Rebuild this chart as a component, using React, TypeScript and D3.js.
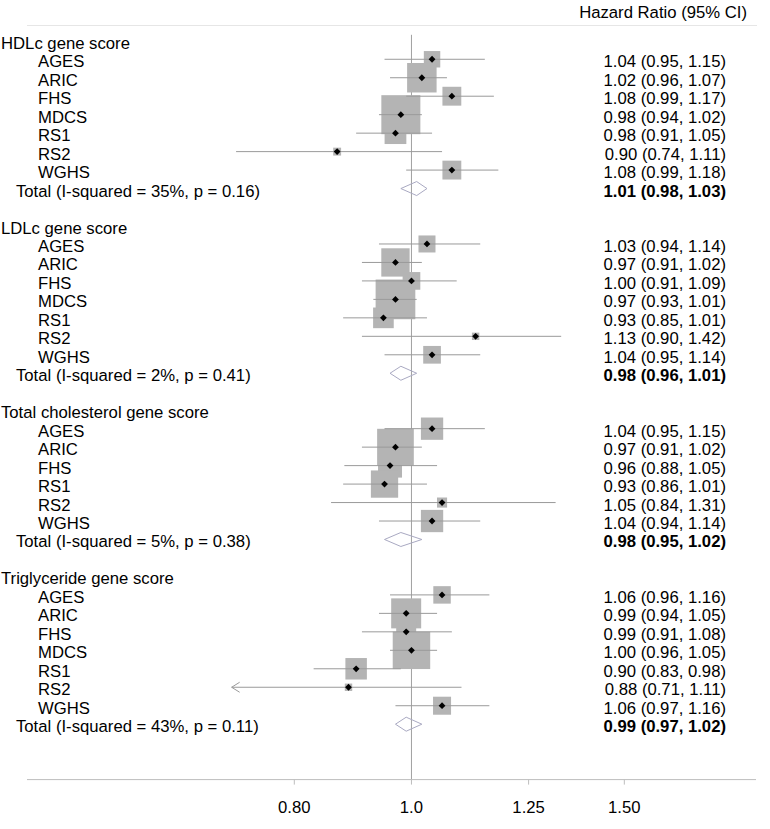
import React from 'react';
import * as d3 from 'd3';

const width = 770;
const height = 829;

// study names and estimates (read from the marks), weights from box sizes
const groupTitles = ['HDLc gene score', 'LDLc gene score', 'Total cholesterol gene score', 'Triglyceride gene score'];

const hdlStudies = ['AGES', 'ARIC', 'FHS', 'MDCS', 'RS1', 'RS2', 'WGHS'];
const hdlHr = [1.04, 1.02, 1.08, 0.98, 0.97, 0.868, 1.08];
const hdlLo = [0.95, 0.96, 0.99, 0.94, 0.90, 0.716, 0.99];
const hdlHi = [1.15, 1.07, 1.17, 1.02, 1.04, 1.06, 1.18];
const hdlWeight = [6.9, 22.2, 9.1, 38.9, 12.1, 1.6, 9.1];
const hdlLabels = ['1.04 (0.95, 1.15)', '1.02 (0.96, 1.07)', '1.08 (0.99, 1.17)', '0.98 (0.94, 1.02)', '0.98 (0.91, 1.05)', '0.90 (0.74, 1.11)', '1.08 (0.99, 1.18)'];
const hdlTotal = [1.01, 0.98, 1.03];
const hdlTotalText = 'Total (I-squared = 35%, p = 0.16)';
const hdlTotalLabel = '1.01 (0.98, 1.03)';

const ldlStudies = ['AGES', 'ARIC', 'FHS', 'MDCS', 'RS1', 'RS2', 'WGHS'];
const ldlHr = [1.03, 0.97, 1.00, 0.97, 0.948, 1.13, 1.04];
const ldlLo = [0.94, 0.91, 0.91, 0.93, 0.878, 0.91, 0.95];
const ldlHi = [1.14, 1.02, 1.09, 1.01, 1.03, 1.33, 1.14];
const ldlWeight = [7.4, 20.5, 8.0, 40.3, 10.9, 1.4, 8.0];
const ldlLabels = ['1.03 (0.94, 1.14)', '0.97 (0.91, 1.02)', '1.00 (0.91, 1.09)', '0.97 (0.93, 1.01)', '0.93 (0.85, 1.01)', '1.13 (0.90, 1.42)', '1.04 (0.95, 1.14)'];
const ldlTotal = [0.98, 0.96, 1.01];
const ldlTotalText = 'Total (I-squared = 2%, p = 0.41)';
const ldlTotalLabel = '0.98 (0.96, 1.01)';

const tcStudies = ['AGES', 'ARIC', 'FHS', 'RS1', 'RS2', 'WGHS'];
const tcHr = [1.04, 0.97, 0.96, 0.95, 1.06, 1.04];
const tcLo = [0.95, 0.91, 0.88, 0.878, 0.858, 0.94];
const tcHi = [1.15, 1.02, 1.05, 1.03, 1.316, 1.14];
const tcWeight = [12.7, 34.4, 14.7, 19.0, 2.6, 12.7];
const tcLabels = ['1.04 (0.95, 1.15)', '0.97 (0.91, 1.02)', '0.96 (0.88, 1.05)', '0.93 (0.86, 1.01)', '1.05 (0.84, 1.31)', '1.04 (0.94, 1.14)'];
const tcTotal = [0.98, 0.95, 1.02];
const tcTotalText = 'Total (I-squared = 5%, p = 0.38)';
const tcTotalLabel = '0.98 (0.95, 1.02)';

const tgStudies = ['AGES', 'ARIC', 'FHS', 'MDCS', 'RS1', 'RS2', 'WGHS'];
const tgHr = [1.06, 0.99, 0.99, 1.00, 0.90, 0.887, 1.06];
const tgLo = [0.96, 0.94, 0.91, 0.96, 0.83, 0.70, 0.97];
const tgHi = [1.16, 1.05, 1.08, 1.05, 0.98, 1.10, 1.16];
const tgWeight = [7.8, 23.0, 10.2, 35.9, 11.8, 1.4, 8.3];
const tgLabels = ['1.06 (0.96, 1.16)', '0.99 (0.94, 1.05)', '0.99 (0.91, 1.08)', '1.00 (0.96, 1.05)', '0.90 (0.83, 0.98)', '0.88 (0.71, 1.11)', '1.06 (0.97, 1.16)'];
const tgTotal = [0.99, 0.97, 1.02];
const tgTotalText = 'Total (I-squared = 43%, p = 0.11)';
const tgTotalLabel = '0.99 (0.97, 1.02)';

const tickValues = [0.8, 1.0, 1.25, 1.5];
const tickLabels = ['0.80', '1.0', '1.25', '1.50'];
const clipLo = 0.71; // CIs below this get an arrow

const sections = [
  { title: groupTitles[0], studies: hdlStudies, hr: hdlHr, lo: hdlLo, hi: hdlHi, w: hdlWeight, labels: hdlLabels, total: hdlTotal, totalText: hdlTotalText, totalLabel: hdlTotalLabel },
  { title: groupTitles[1], studies: ldlStudies, hr: ldlHr, lo: ldlLo, hi: ldlHi, w: ldlWeight, labels: ldlLabels, total: ldlTotal, totalText: ldlTotalText, totalLabel: ldlTotalLabel },
  { title: groupTitles[2], studies: tcStudies, hr: tcHr, lo: tcLo, hi: tcHi, w: tcWeight, labels: tcLabels, total: tcTotal, totalText: tcTotalText, totalLabel: tcTotalLabel },
  { title: groupTitles[3], studies: tgStudies, hr: tgHr, lo: tgLo, hi: tgHi, w: tgWeight, labels: tgLabels, total: tgTotal, totalText: tgTotalText, totalLabel: tgTotalLabel },
];

// lay out rows: title, studies, total, blank
type Row = { kind: 'title' | 'study' | 'total'; i: number; text: string; hr?: number; lo?: number; hi?: number; w?: number; label?: string };
const rows: Row[] = [];
let idx = 0;
sections.forEach((s) => {
  rows.push({ kind: 'title', i: idx++, text: s.title });
  s.studies.forEach((name, j) => {
    rows.push({ kind: 'study', i: idx++, text: name, hr: s.hr[j], lo: s.lo[j], hi: s.hi[j], w: s.w[j], label: s.labels[j] });
  });
  rows.push({ kind: 'total', i: idx++, text: s.totalText, hr: s.total[0], lo: s.total[1], hi: s.total[2], label: s.totalLabel });
  idx++;
});
const nRows = idx + 1; // axis sits on the row after the last blank

const x = d3.scaleLog().domain([0.4808, 1.9276]).range([27, 756]);
const y = d3.scaleLinear().domain([0, nRows]).range([40.8, 40.8 + nRows * 18.47]);
const boxSide = (w: number) => 6.255 * Math.sqrt(w);

const font = '"Liberation Sans", Arial, Helvetica, sans-serif';

export default function App() {
  const axisY = y(nRows);
  const x1 = x(1);
  const studies = rows.filter(r => r.kind === 'study');
  return (
    <svg width={width} height={height} style={{ position: 'absolute', left: 0, top: 0, background: '#fff' }} fontFamily={font} fontSize={16.7}>
      {/* header */}
      <text x={747} y={18} textAnchor="end">Hazard Ratio (95% CI)</text>
      <line x1={27} x2={757} y1={25.5} y2={25.5} stroke="#e6e6e6" />

      {/* reference line at 1 */}
      <line x1={x1} x2={x1} y1={y(0) - 6} y2={axisY} stroke="#a0a0a0" />

      {/* boxes */}
      {studies.map(r => {
        const s = boxSide(r.w!);
        return <rect key={'b' + r.i} x={x(r.hr!) - s / 2} y={y(r.i) - s / 2} width={s} height={s} fill="#b4b4b4" />;
      })}

      {/* CI lines */}
      {studies.map(r => {
        const yy = y(r.i);
        const clipped = r.lo! < clipLo;
        const left = x(clipped ? clipLo : r.lo!);
        return (
          <g key={'c' + r.i} stroke="#9a9a9a" fill="none">
            <line x1={left} x2={x(r.hi!)} y1={yy} y2={yy} />
            {clipped && <path d={`M${left + 8},${yy - 5}L${left},${yy}L${left + 8},${yy + 5}`} />}
          </g>
        );
      })}

      {/* point markers */}
      {studies.map(r => {
        const cx = x(r.hr!), cy = y(r.i), d = 3.4;
        return <path key={'p' + r.i} d={`M${cx - d},${cy}L${cx},${cy - d}L${cx + d},${cy}L${cx},${cy + d}Z`} fill="#000" />;
      })}

      {/* pooled diamonds */}
      {rows.filter(r => r.kind === 'total').map(r => {
        const cy = y(r.i);
        return (
          <path key={'d' + r.i}
            d={`M${x(r.lo!)},${cy}L${x(r.hr!)},${cy - 7}L${x(r.hi!)},${cy}L${x(r.hr!)},${cy + 7}Z`}
            fill="none" stroke="#a9a9c2" />
        );
      })}

      {/* left labels */}
      {rows.map(r => (
        <text key={'t' + r.i} x={r.kind === 'title' ? 1 : r.kind === 'total' ? 16 : 38} y={y(r.i) + 8}>{r.text}</text>
      ))}

      {/* right labels */}
      {rows.filter(r => r.label).map(r => (
        <text key={'l' + r.i} x={726} y={y(r.i) + 8} textAnchor="end" fontWeight={r.kind === 'total' ? 'bold' : 'normal'}>{r.label}</text>
      ))}

      {/* x axis */}
      <line x1={27} x2={756} y1={axisY} y2={axisY} stroke="#bdbdbd" />
      {tickValues.map((t, i) => (
        <g key={'k' + i}>
          <line x1={x(t)} x2={x(t)} y1={axisY} y2={axisY + 5} stroke="#bdbdbd" />
          <text x={x(t)} y={axisY + 33} textAnchor="middle">{tickLabels[i]}</text>
        </g>
      ))}
    </svg>
  );
}
